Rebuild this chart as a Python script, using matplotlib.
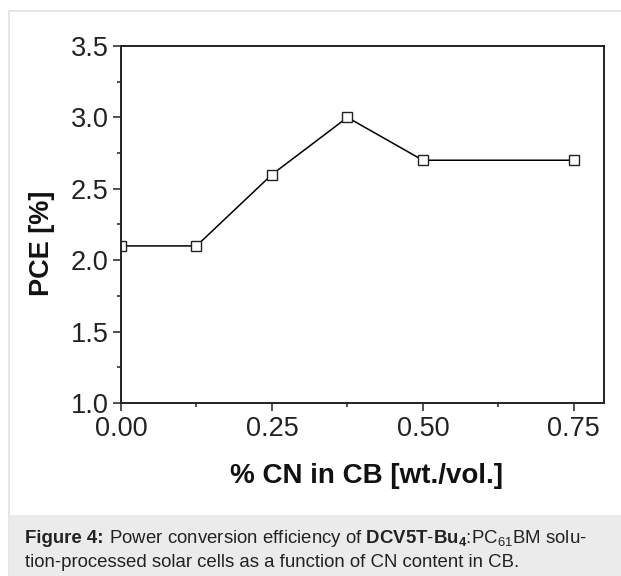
import matplotlib
matplotlib.use("Agg")
import matplotlib.pyplot as plt
from matplotlib.patches import Rectangle
from matplotlib.ticker import MultipleLocator

plt.rcParams["font.family"] = ["Liberation Sans", "DejaVu Sans"]
plt.rcParams["mathtext.fontset"] = "custom"
plt.rcParams["mathtext.rm"] = "Liberation Sans"
plt.rcParams["mathtext.bf"] = "Liberation Sans:bold"
plt.rcParams["mathtext.it"] = "Liberation Sans:italic"
plt.rcParams["mathtext.default"] = "regular"

# data
cn_content = [0.0, 0.125, 0.25, 0.375, 0.5, 0.75]
pce = [2.1, 2.1, 2.6, 3.0, 2.7, 2.7]
x_ticks = [0.0, 0.25, 0.5, 0.75]
y_ticks = [1.0, 1.5, 2.0, 2.5, 3.0, 3.5]

W, H = 621, 576
fig = plt.figure(figsize=(W / 100, H / 100), dpi=100)

# outer frame and caption panel
fig.patches.append(Rectangle((8.5 / W, 0), 1.0, 1 - 10.5 / H, transform=fig.transFigure,
                             facecolor="white", edgecolor="#e2e2e2", linewidth=1.2, zorder=-2))
fig.patches.append(Rectangle((9 / W, 0), 1.0, 61 / H, transform=fig.transFigure,
                             facecolor="#ebebeb", edgecolor="none", zorder=-1))

ax = fig.add_axes([121 / W, 1 - 403 / H, 483 / W, 357 / H])
ax.set_zorder(3)
ax.plot(cn_content, pce, color="black", linewidth=1.1, marker="s", markersize=6.5,
        markerfacecolor="white", markeredgecolor="#222222", markeredgewidth=1.0)

ax.set_xlim(0, 0.8)
ax.set_ylim(1.0, 3.5)
ax.set_xticks(x_ticks)
ax.set_xticklabels([f"{v:.2f}" for v in x_ticks])
ax.set_yticks(y_ticks)
ax.set_yticklabels([f"{v:.1f}" for v in y_ticks])
ax.xaxis.set_minor_locator(MultipleLocator(0.125))
ax.yaxis.set_minor_locator(MultipleLocator(0.25))
ax.tick_params(which="both", direction="out", top=False, right=False, width=1.1, colors="#222222")
ax.tick_params(which="major", length=5.5, labelsize=19.5)
ax.tick_params(which="minor", length=3)
ax.tick_params(axis="x", pad=3.5)
ax.tick_params(axis="y", pad=3.5)
for sp in ax.spines.values():
    sp.set_linewidth(1.4)
    sp.set_color("#222222")

fig.text(42 / W, 1 - 243 / H, "PCE [%]", rotation=90, ha="center", va="center",
         fontsize=19.5, fontweight="bold", color="#111111")
fig.text(367 / W, 1 - 476 / H, "% CN in CB [wt./vol.]", ha="center", va="center",
         fontsize=20, fontweight="bold", color="#111111")

# caption: bold lead-in, then the rest on the same baseline
cap_size = 13.4
lead = fig.text(25 / W, 1 - 543 / H, "Figure 4:", ha="left", va="baseline",
                fontsize=cap_size, fontweight="bold", color="#222222")
bb = lead.get_window_extent(renderer=fig.canvas.get_renderer())
rest1 = (r" Power conversion efficiency of "
         r"$\mathbf{DCV5T}$-$\mathbf{Bu_4}$:PC$_{61}$BM solu-")
fig.text(bb.x1 / W, 1 - 543 / H, rest1, ha="left", va="baseline", fontsize=cap_size, color="#222222")
line2 = "tion-processed solar cells as a function of CN content in CB."
fig.text(25 / W, 1 - 567 / H, line2, ha="left", va="baseline", fontsize=cap_size, color="#222222")

fig.savefig("out.png", dpi=100)
